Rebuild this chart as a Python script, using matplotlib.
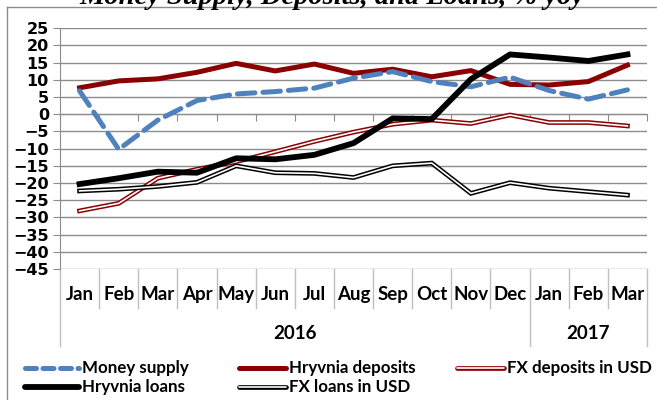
import matplotlib
matplotlib.use("Agg")
import matplotlib.pyplot as plt
import matplotlib.patheffects as pe
from matplotlib.lines import Line2D

# data (% yoy)
months = ["Jan", "Feb", "Mar", "Apr", "May", "Jun", "Jul", "Aug", "Sep", "Oct", "Nov", "Dec",
          "Jan", "Feb", "Mar"]
years = ["2016", "2017"]
year_counts = [12, 3]

money_supply = [6.8, -10.2, -1.7, 4.0, 5.9, 6.6, 7.6, 10.5, 12.4, 9.5, 8.0, 10.8, 6.9, 4.4, 7.1]
hryvnia_deposits = [7.7, 9.7, 10.3, 12.2, 14.8, 12.6, 14.6, 11.9, 13.1, 10.9, 12.7, 8.7, 8.5, 9.5, 14.3]
fx_deposits_usd = [-28.1, -25.9, -18.6, -16.0, -13.8, -10.9, -7.9, -5.2, -2.9, -1.7, -2.7, -0.2, -2.4, -2.4, -3.4]
hryvnia_loans = [-20.3, -18.6, -16.7, -17.0, -12.8, -13.1, -11.8, -8.4, -1.2, -1.4, 10.2, 17.4, 16.5, 15.5, 17.4]
fx_loans_usd = [-22.3, -21.8, -21.0, -19.8, -15.0, -17.0, -17.2, -18.4, -15.0, -14.2, -23.0, -19.9, -21.5, -22.5, -23.5]

BLUE = "#4F81BD"
RED = "#8B0000"
GRID = "#8C8C8C"
FONT = "Lato"

fig = plt.figure(figsize=(6.57, 4.0), dpi=100)
ax = fig.add_axes([60 / 657, 1 - 269 / 400, 587 / 657, 240.7 / 400])

x = list(range(len(months)))


def double(color):
    return [pe.Stroke(linewidth=3.4, foreground=color), pe.Normal()]


ax.plot(x, fx_deposits_usd, color="white", lw=1.2, path_effects=double(RED),
        solid_joinstyle="miter", zorder=3)
ax.plot(x, fx_loans_usd, color="white", lw=1.2, path_effects=double("black"),
        solid_joinstyle="miter", zorder=3)
ax.plot(x, hryvnia_deposits, color=RED, lw=3.6, zorder=4)
ax.plot(x, money_supply, color=BLUE, lw=3.6, dashes=(3.5, 1.6), dash_capstyle="round", zorder=5)
ax.plot(x, hryvnia_loans, color="black", lw=4.2, zorder=6)

ax.set_xlim(-0.5, len(months) - 0.5)
ax.set_ylim(-45, 25)
ax.set_yticks(range(-45, 26, 5))
ax.grid(axis="y", color=GRID, lw=1.0)
ax.set_axisbelow(True)
for s in ["top", "right"]:
    ax.spines[s].set_visible(False)
ax.spines["left"].set_color(GRID)
ax.spines["bottom"].set_position(("data", 0))
ax.spines["bottom"].set_color(GRID)
ax.tick_params(axis="y", length=5, color=GRID, pad=3, labelsize=11.5)
for lab in ax.get_yticklabels():
    lab.set_fontweight("bold")
    lab.set_family("DejaVu Sans")

# tick marks at the category boundaries on the zero line
bounds = [i - 0.5 for i in range(len(months) + 1)]
ax.set_xticks(bounds)
ax.set_xticklabels([])
ax.tick_params(axis="x", length=5, color=GRID, direction="out")

# multi-level category axis below the plot
tr = ax.get_xaxis_transform()
for i, m in enumerate(months):
    ax.text(i, -0.108, m, transform=tr, ha="center", va="center",
            fontsize=13.5, fontweight="bold", family=FONT, clip_on=False)
year_edges = [-0.5]
for c in year_counts:
    year_edges.append(year_edges[-1] + c)
for b in bounds:
    bottom = -0.32 if b in year_edges else -0.162
    ax.plot([b, b], [0, bottom], transform=tr, color="#BFBFBF", lw=1.0, clip_on=False)
for k, yr in enumerate(years):
    mid = (year_edges[k] + year_edges[k + 1]) / 2
    ax.text(mid, -0.27, yr, transform=tr, ha="center", va="center",
            fontsize=13.5, fontweight="bold", family=FONT, clip_on=False)

# title (partly cut off at the top, as in the reference)
fig.text(0.505, 1 - 4 / 400, "Money Supply, Deposits, and Loans, % yoy", ha="center",
         va="baseline", fontsize=20.5, fontweight="bold", style="italic", family="Liberation Serif")

# outer chart frame
fig.add_artist(Line2D([7 / 657, 7 / 657], [0, 1 - 7 / 400], color=GRID, lw=1.0))
fig.add_artist(Line2D([7 / 657, 1], [1 - 7 / 400, 1 - 7 / 400], color=GRID, lw=1.0))

# legend, laid out in rows like the original
legend_items = [
    ("Money supply", dict(color=BLUE, lw=3.6, dashes=(2.2, 1.3), dash_capstyle="round")),
    ("Hryvnia deposits", dict(color=RED, lw=3.6)),
    ("FX deposits in USD", dict(color="white", lw=1.2, path_effects=double(RED))),
    ("Hryvnia loans", dict(color="black", lw=4.2)),
    ("FX loans in USD", dict(color="white", lw=1.2, path_effects=double("black"))),
]
handle_x = [25, 239, 457]
text_x = [82, 289, 507]
row_y = [368, 387]
for n, (label, style) in enumerate(legend_items):
    c = n % 3
    cy = 1 - row_y[n // 3] / 400
    fig.add_artist(Line2D([handle_x[c] / 657, (text_x[c] - 3) / 657], [cy, cy],
                          solid_capstyle="round", **style))
    fig.text(text_x[c] / 657, cy, label, ha="left", va="center", fontsize=12.2,
             fontweight="bold", family=FONT)

fig.savefig("out.png", dpi=100)
